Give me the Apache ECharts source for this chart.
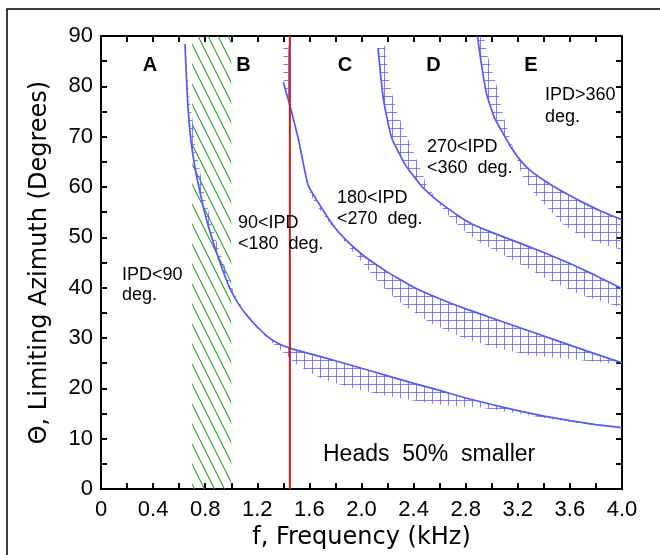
<!DOCTYPE html>
<html><head><meta charset="utf-8">
<script src="https://cdn.jsdelivr.net/npm/echarts@6/dist/echarts.min.js"></script>
<style>html,body{margin:0;padding:0;background:#fff}#c{width:660px;height:555px}</style>
</head><body><div id="c"></div>
<script>
// ---------- data ----------
const xTickLabels = ['0','0.4','0.8','1.2','1.6','2.0','2.4','2.8','3.2','3.6','4.0'];
const yTickLabels = ['0','10','20','30','40','50','60','70','80','90'];

// IPD = 90 deg boundary (A|B)
const curveA_f = [0.645,0.652,0.66,0.67,0.685,0.706,0.737,0.77,0.80,0.85,0.90,0.95,1.00,1.06,1.12,1.20,1.28,1.36,1.45,1.60,1.80,2.00,2.20,2.40,2.60,2.80,3.00,3.20,3.40,3.60,3.80,4.00];
const curveA_t = [88.4,84,79.5,75,70.5,66.3,61.8,57.8,54.5,50.0,46.0,42.4,39.3,36.6,34.5,32.2,30.3,28.9,28.0,26.9,25.5,24.0,22.5,21.0,19.6,18.1,16.8,15.6,14.5,13.6,12.8,12.2];
const bandA_f  = [0.652,0.665,0.68,0.70,0.72,0.75,0.79,0.85,0.90,0.96,1.02,1.10,1.20,1.35,1.45,1.50,1.60,1.72,1.97,2.22,2.53,2.75,2.91,3.20,3.60,4.00];
const bandA_t  = [88,82,77,74,69,64.5,59,52.5,48,43.5,39,35.3,31.9,28.2,26.0,24.8,23.2,21.6,19.8,18.4,17.0,16.4,16.2,15.0,13.3,12.1];

// IPD = 180 deg boundary (B|C)
const curveB_f = [1.40,1.45,1.52,1.59,1.70,1.80,1.90,2.00,2.10,2.20,2.30,2.40,2.60,2.80,3.00,3.20,3.40,3.60,3.80,4.00];
const curveB_t = [80.8,76.2,69,60.4,55.6,51.8,49.0,46.7,44.8,43.1,41.6,40.1,37.8,35.8,34.0,32.2,30.4,28.6,26.8,25.1];
const bandB_f  = [1.40,1.44,1.46,1.50,1.55,1.60,1.65,1.75,1.835,1.91,2.00,2.10,2.20,2.33,2.53,2.78,3.04,3.29,3.62,4.00];
const bandB_t  = [88,88,77,71,65,59,56.5,53,50.4,47.8,45.2,42,39.2,36.4,33,30,28,26.6,25.8,24.7];

// IPD = 270 deg boundary (C|D)
const curveC_f = [2.127,2.14,2.165,2.20,2.234,2.334,2.45,2.55,2.66,2.76,2.86,3.00,3.16,3.40,3.60,3.80,4.00];
const curveC_t = [87.6,84,78,73.2,69.6,64.5,60.5,58.0,55.8,54.0,52.5,51.0,49.4,47.0,44.8,42.4,39.8];
const bandC_f  = [2.127,2.18,2.22,2.27,2.35,2.43,2.50,2.60,2.68,2.80,2.91,3.16,3.42,3.68,4.00];
const bandC_t  = [88,88,80,75,70,65,60.5,56.5,54,51,49,45.5,41.8,38.6,36];

// IPD = 360 deg boundary (D|E)
const curveD_f = [2.89,2.92,2.96,3.02,3.09,3.15,3.22,3.30,3.42,3.55,3.68,3.84,4.00];
const curveD_t = [90,84.5,78.5,73.8,70.5,67.8,65.3,63.2,61.0,59.0,57.2,55.2,53.5];
const bandD_f  = [2.89,2.94,2.97,3.04,3.09,3.16,3.23,3.30,3.39,3.55,3.70,3.81,4.00];
const bandD_t  = [90,90,86,80,74,68,62.5,59.5,57,52.5,50,49,47.5];

// green hatched frequency range and red marker frequency
const greenBand_f = [0.70, 1.00];
const redLine_f = 1.45;

// ---------- patterns ----------
function gridPattern(){
  const c=document.createElement('canvas'); c.width=8; c.height=8;
  const g=c.getContext('2d');
  g.strokeStyle='rgba(95,95,255,0.8)'; g.lineWidth=1;
  g.beginPath(); g.moveTo(0.5,0); g.lineTo(0.5,8); g.moveTo(0,0.5); g.lineTo(8,0.5); g.stroke();
  return c;
}
function diagPattern(){
  const c=document.createElement('canvas'); c.width=10; c.height=20;
  const g=c.getContext('2d');
  g.strokeStyle='#2ca52c'; g.lineWidth=1.1;
  g.beginPath();
  for(const k of [-1,0,1]){ g.moveTo(k*10,0); g.lineTo(k*10+10,20); }
  g.stroke();
  return c;
}
const gridPat = {image: gridPattern(), repeat:'repeat'};
const diagPat = {image: diagPattern(), repeat:'repeat'};

function zip(a,b){ return a.map((v,i)=>[v,b[i]]); }

function bandSeries(uf,ut,lf,lt){
  return {
    type:'custom', coordinateSystem:'cartesian2d', silent:true, z:2, clip:true,
    data:[[uf[0],ut[0]]],
    renderItem:function(params, api){
      const pts=[];
      for(let i=0;i<uf.length;i++) pts.push(api.coord([uf[i],ut[i]]));
      for(let i=lf.length-1;i>=0;i--) pts.push(api.coord([lf[i],lt[i]]));
      return {type:'polygon', shape:{points:pts}, style:{fill:gridPat, stroke:null}};
    }
  };
}
function curveSeries(f,t){
  return {type:'line', data:zip(f,t), symbol:'none', smooth:0.15, z:4,
    lineStyle:{color:'#5656ff', width:1.7}, silent:true};
}

const LF = "'Liberation Sans', Arial, sans-serif";
const DF = "'DejaVu Sans', sans-serif";

function axisCommon(){
  return {
    axisLine:{show:true, onZero:false, lineStyle:{color:'#000', width:2}},
    axisTick:{show:true, inside:true, length:6, lineStyle:{color:'#000', width:2}},
    minorTick:{show:true, splitNumber:2, length:6, lineStyle:{color:'#000', width:2}},
    splitLine:{show:false}
  };
}

const chart = echarts.init(document.getElementById('c'));
chart.setOption({
  animation:false,
  backgroundColor:'#fff',
  grid:{left:101, right:38, top:36, bottom:60, containLabel:false},
  xAxis:[
    Object.assign(axisCommon(), {type:'value', min:0, max:4, interval:0.4, position:'bottom',
      axisLabel:{margin:10, color:'#000', fontFamily:LF, fontSize:22,
        formatter:v=>xTickLabels[Math.round(v/0.4)]},
      name:'f, Frequency (kHz)', nameLocation:'middle', nameGap:36,
      nameTextStyle:{color:'#000', fontFamily:DF, fontSize:24}}),
    Object.assign(axisCommon(), {type:'value', min:0, max:4, interval:0.4, position:'top',
      axisLabel:{show:false}})
  ],
  yAxis:[
    Object.assign(axisCommon(), {type:'value', min:0, max:90, interval:10, position:'left',
      axisLabel:{margin:8, color:'#000', fontFamily:LF, fontSize:22,
        formatter:v=>yTickLabels[Math.round(v/10)]},
      name:'Θ, Limiting Azimuth (Degrees)', nameLocation:'middle', nameGap:49, nameRotate:90,
      nameTextStyle:{color:'#000', fontFamily:DF, fontSize:24}}),
    Object.assign(axisCommon(), {type:'value', min:0, max:90, interval:10, position:'right',
      axisLabel:{show:false}})
  ],
  series:[
    {type:'custom', coordinateSystem:'cartesian2d', silent:true, z:1, clip:true,
     data:[[greenBand_f[0],0]],
     renderItem:function(params, api){
       const p0=api.coord([greenBand_f[0],90]), p1=api.coord([greenBand_f[1],0]);
       return {type:'rect', shape:{x:p0[0], y:p0[1], width:p1[0]-p0[0], height:p1[1]-p0[1]},
         style:{fill:diagPat, stroke:null}};
     }},
    bandSeries(curveA_f,curveA_t,bandA_f,bandA_t),
    bandSeries(curveB_f,curveB_t,bandB_f,bandB_t),
    bandSeries(curveC_f,curveC_t,bandC_f,bandC_t),
    bandSeries(curveD_f,curveD_t,bandD_f,bandD_t),
    curveSeries(curveA_f,curveA_t),
    curveSeries(curveB_f,curveB_t),
    curveSeries(curveC_f,curveC_t),
    curveSeries(curveD_f,curveD_t),
    {type:'line', data:[[redLine_f,0],[redLine_f,90]], symbol:'none', z:5, silent:true,
     lineStyle:{color:'#c81e1e', width:2}}
  ],
  graphic:[
    {type:'rect', shape:{x:7,y:9,width:720,height:620}, style:{fill:'none', stroke:'#000', lineWidth:1.5}, silent:true},
    ...[['A',150],['B',243.5],['C',345],['D',433.5],['E',531]].map(([t,x])=>({
      type:'text', x:x, y:65, style:{text:t, fill:'#000', font:"bold 20px "+LF, textAlign:'center', textVerticalAlign:'middle'}, z:10})),
    ...[['IPD>360',545,95],['deg.',545,117],['270<IPD',427,147],['<360  deg.',427,168],
        ['180<IPD',337,198],['<270  deg.',337,219],['90<IPD',238,223],['<180  deg.',238,244],
        ['IPD<90',122,275],['deg.',122,295]].map(([t,x,y])=>({
      type:'text', x:x, y:y, style:{text:t, fill:'#000', font:"18px "+LF, textAlign:'left', textVerticalAlign:'middle'}, z:10})),
    {type:'text', x:323, y:455, style:{text:'Heads  50%  smaller', fill:'#000', font:"23px "+LF, textAlign:'left', textVerticalAlign:'middle'}, z:10}
  ]
});
</script></body></html>
